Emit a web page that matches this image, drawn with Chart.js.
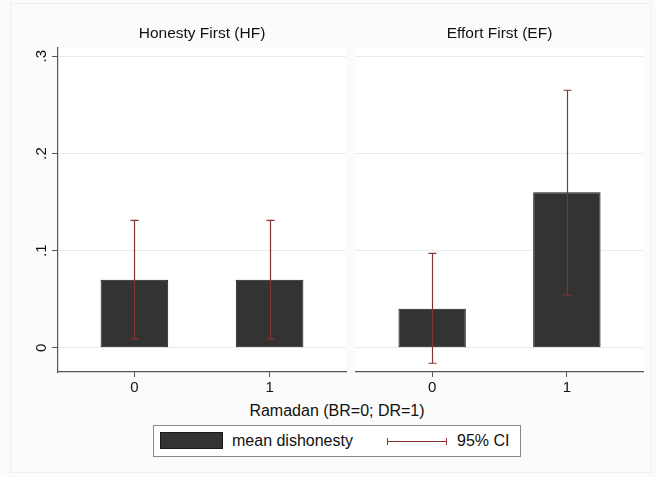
<!DOCTYPE html>
<html>
<head>
<meta charset="utf-8">
<script src="https://cdn.jsdelivr.net/npm/chart.js@4/dist/chart.umd.min.js"></script>
<style>
  body { margin: 0; background: #fbfbfb; font-family: "Liberation Sans", Arial, sans-serif; color: #111; }
  #wrap { position: relative; width: 656px; height: 477px; overflow: hidden; }
  #frame { position: absolute; left: 10px; top: 3px; width: 640px; height: 468px; border: 1px solid #f0f0f0; }
  canvas { position: absolute; top: 0; }
  #xtitle { position: absolute; left: 237px; width: 200px; top: 402px; text-align: center; font-size: 16px; white-space: nowrap; }
  #legend { position: absolute; left: 153px; top: 425px; width: 366px; height: 30px; border: 1px solid #888; background: #fff; }
  .swatch { position: absolute; left: 6px; top: 6px; width: 61px; height: 15px; background: #333; border: 1px solid #1a1a1a; }
  .ltext { position: absolute; top: 6px; font-size: 16px; line-height: 18px; white-space: nowrap; }
  .ciline { position: absolute; left: 233px; top: 15px; width: 60px; height: 0; border-top: 1px solid #883333; }
  .cicap { position: absolute; top: 12px; width: 0; height: 7px; border-left: 1px solid #883333; }
</style>
</head>
<body>
<div id="wrap">
  <div id="frame"></div>
  <canvas id="hf" width="404" height="400" style="left:0px"></canvas>
  <canvas id="ef" width="313" height="400" style="left:343px"></canvas>
  <div id="xtitle">Ramadan (BR=0; DR=1)</div>
  <div id="legend">
    <div class="swatch"></div>
    <div class="ltext" style="left:78px">mean dishonesty</div>
    <div class="ciline"></div>
    <div class="cicap" style="left:233px"></div>
    <div class="cicap" style="left:292px"></div>
    <div class="ltext" style="left:303px">95% CI</div>
  </div>
</div>
<script>
// data
const ramadan = [0, 1];
const hfMean = [0.07, 0.07];
const hfLow = [0.009, 0.009];
const hfHigh = [0.131, 0.131];
const efMean = [0.04, 0.16];
const efLow = [-0.016, 0.054];
const efHigh = [0.097, 0.265];
const yTicks = [0, 0.1, 0.2, 0.3];

const barColor = '#333333';
const ciColor = '#883333';
const gridColor = '#e6eded';
const axisColor = '#555555';

Chart.defaults.font.family = '"Liberation Sans", Arial, sans-serif';
Chart.defaults.font.size = 15;
Chart.defaults.color = '#111';

// white plot region
const plotBg = {
  id: 'plotBg',
  beforeDraw(chart) {
    const { ctx, chartArea: a } = chart;
    ctx.save();
    ctx.fillStyle = '#ffffff';
    ctx.fillRect(a.left, a.top, a.right - a.left, a.bottom - a.top);
    ctx.restore();
  }
};

// 95% CI whiskers
const ciBars = {
  id: 'ciBars',
  afterDatasetsDraw(chart, args, opts) {
    const { ctx, scales: { x, y } } = chart;
    ctx.save();
    ctx.strokeStyle = ciColor;
    ctx.lineWidth = 1.2;
    opts.lows.forEach((lo, i) => {
      const px = Math.round(x.getPixelForValue(ramadan[i])) + 0.5;
      const top = y.getPixelForValue(opts.highs[i]);
      const bot = y.getPixelForValue(lo);
      ctx.beginPath();
      ctx.moveTo(px, top); ctx.lineTo(px, bot);
      ctx.moveTo(px - 4, top); ctx.lineTo(px + 4, top);
      ctx.moveTo(px - 4, bot); ctx.lineTo(px + 4, bot);
      ctx.stroke();
    });
    ctx.restore();
  }
};

function makePanel(id, title, means, lows, highs, showY, sideWidth) {
  return new Chart(document.getElementById(id), {
    type: 'bar',
    data: {
      datasets: [{
        label: 'mean dishonesty',
        data: ramadan.map((r, i) => ({ x: r, y: means[i] })),
        backgroundColor: barColor,
        borderColor: '#1a1a1a',
        borderWidth: 1,
        borderSkipped: false,
        barPercentage: 0.5,
        categoryPercentage: 1
      }]
    },
    options: {
      responsive: false,
      animation: false,
      layout: { padding: 0 },
      plugins: {
        legend: { display: false },
        tooltip: { enabled: false },
        title: {
          display: true,
          text: title,
          font: { size: 15.5, weight: 'normal' },
          color: '#111',
          padding: { top: 24.5, bottom: 4.4 }
        },
        ciBars: { lows: lows, highs: highs }
      },
      scales: {
        x: {
          type: 'linear',
          offset: false,
          min: -0.565,
          max: 1.565,
          afterBuildTicks: s => { s.ticks = ramadan.map(v => ({ value: v })); },
          afterFit: s => { s.height = 28; },
          ticks: { padding: 2, font: { size: 15 }, color: '#111' },
          grid: { offset: false, drawOnChartArea: false, tickLength: 5, tickColor: axisColor },
          border: { color: axisColor, width: 1.2 }
        },
        y: {
          min: -0.025,
          max: 0.309,
          afterBuildTicks: s => { s.ticks = yTicks.map(v => ({ value: v })); },
          afterFit: s => { s.width = sideWidth; },
          ticks: {
            display: showY,
            minRotation: 90,
            maxRotation: 90,
            crossAlign: 'center',
            padding: 4,
            font: { size: 15 },
            color: '#111',
            callback: v => v === 0 ? '0' : String(Math.round(v * 10) / 10).replace('0.', '.')
          },
          grid: { color: gridColor, lineWidth: 1, drawTicks: showY, tickLength: 6, tickColor: axisColor },
          border: { display: showY, color: axisColor, width: 1.2 }
        },
        // empty right-hand spacer so the title centres over the plot region
        pad: {
          axis: 'y',
          position: 'right',
          display: true,
          afterFit: s => { s.width = sideWidth; },
          ticks: { display: false },
          grid: { display: false },
          border: { display: false }
        }
      }
    },
    plugins: [plotBg, ciBars]
  });
}

makePanel('hf', 'Honesty First (HF)', hfMean, hfLow, hfHigh, true, 58);
makePanel('ef', 'Effort First (EF)', efMean, efLow, efHigh, false, 13);
</script>
</body>
</html>
